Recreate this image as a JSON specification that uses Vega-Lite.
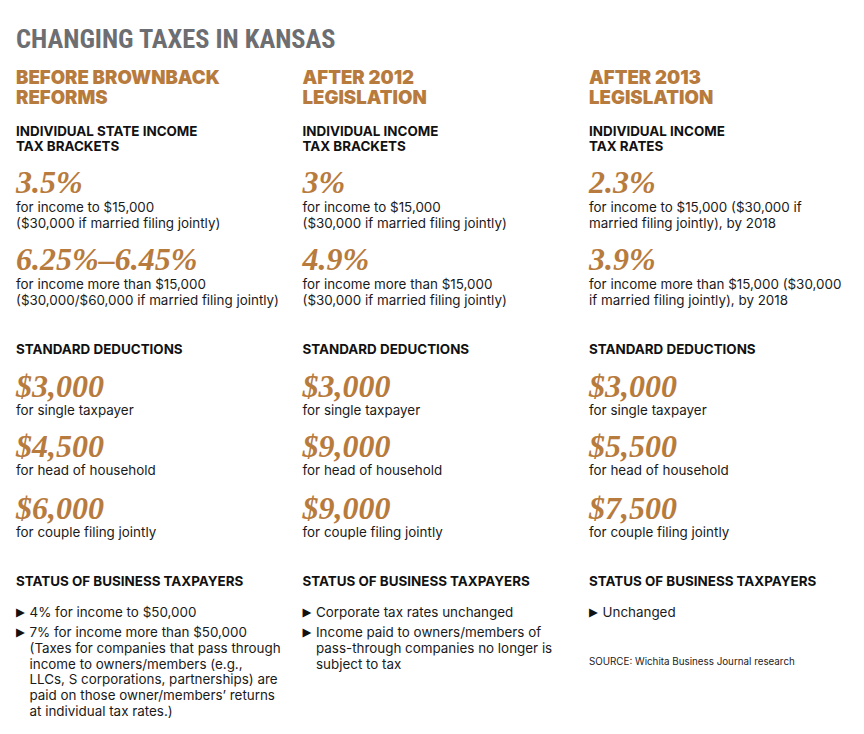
{
  "$schema": "https://vega.github.io/schema/vega-lite/v6.json",
  "width": 864,
  "height": 734,
  "padding": 0,
  "autosize": {"type": "fit", "contains": "padding"},
  "background": "white",
  "config": {"view": {"stroke": null}},
  "data": {"values": [
    {"kind": "title", "col": 0, "y": 48, "text": "CHANGING TAXES IN KANSAS"},
    {"kind": "head", "col": 0, "y": 84, "text": "BEFORE BROWNBACK"},
    {"kind": "head", "col": 0, "y": 104, "text": "REFORMS"},
    {"kind": "head", "col": 1, "y": 84, "text": "AFTER 2012"},
    {"kind": "head", "col": 1, "y": 104, "text": "LEGISLATION"},
    {"kind": "head", "col": 2, "y": 84, "text": "AFTER 2013"},
    {"kind": "head", "col": 2, "y": 104, "text": "LEGISLATION"},
    {"kind": "sub", "col": 0, "y": 136, "text": "INDIVIDUAL STATE INCOME"},
    {"kind": "sub", "col": 0, "y": 151, "text": "TAX BRACKETS"},
    {"kind": "sub", "col": 1, "y": 136, "text": "INDIVIDUAL INCOME"},
    {"kind": "sub", "col": 1, "y": 151, "text": "TAX BRACKETS"},
    {"kind": "sub", "col": 2, "y": 136, "text": "INDIVIDUAL INCOME"},
    {"kind": "sub", "col": 2, "y": 151, "text": "TAX RATES"},
    {"kind": "sub", "col": 0, "y": 354, "text": "STANDARD DEDUCTIONS"},
    {"kind": "sub", "col": 1, "y": 354, "text": "STANDARD DEDUCTIONS"},
    {"kind": "sub", "col": 2, "y": 354, "text": "STANDARD DEDUCTIONS"},
    {"kind": "sub", "col": 0, "y": 586, "text": "STATUS OF BUSINESS TAXPAYERS"},
    {"kind": "sub", "col": 1, "y": 586, "text": "STATUS OF BUSINESS TAXPAYERS"},
    {"kind": "sub", "col": 2, "y": 586, "text": "STATUS OF BUSINESS TAXPAYERS"},
    {"kind": "big", "col": 0, "y": 193, "text": "3.5%"},
    {"kind": "big", "col": 0, "y": 270, "text": "6.25%–6.45%"},
    {"kind": "big", "col": 0, "y": 397, "text": "$3,000"},
    {"kind": "big", "col": 0, "y": 457, "text": "$4,500"},
    {"kind": "big", "col": 0, "y": 519, "text": "$6,000"},
    {"kind": "big", "col": 1, "y": 193, "text": "3%"},
    {"kind": "big", "col": 1, "y": 270, "text": "4.9%"},
    {"kind": "big", "col": 1, "y": 397, "text": "$3,000"},
    {"kind": "big", "col": 1, "y": 457, "text": "$9,000"},
    {"kind": "big", "col": 1, "y": 519, "text": "$9,000"},
    {"kind": "big", "col": 2, "y": 193, "text": "2.3%"},
    {"kind": "big", "col": 2, "y": 270, "text": "3.9%"},
    {"kind": "big", "col": 2, "y": 397, "text": "$3,000"},
    {"kind": "big", "col": 2, "y": 457, "text": "$5,500"},
    {"kind": "big", "col": 2, "y": 519, "text": "$7,500"},
    {"kind": "body", "col": 0, "y": 212, "text": "for income to $15,000"},
    {"kind": "body", "col": 0, "y": 228, "text": "($30,000 if married filing jointly)"},
    {"kind": "body", "col": 0, "y": 289, "text": "for income more than $15,000"},
    {"kind": "body", "col": 0, "y": 305, "text": "($30,000/$60,000 if married filing jointly)"},
    {"kind": "body", "col": 1, "y": 212, "text": "for income to $15,000"},
    {"kind": "body", "col": 1, "y": 228, "text": "($30,000 if married filing jointly)"},
    {"kind": "body", "col": 1, "y": 289, "text": "for income more than $15,000"},
    {"kind": "body", "col": 1, "y": 305, "text": "($30,000 if married filing jointly)"},
    {"kind": "body", "col": 2, "y": 212, "text": "for income to $15,000 ($30,000 if"},
    {"kind": "body", "col": 2, "y": 228, "text": "married filing jointly), by 2018"},
    {"kind": "body", "col": 2, "y": 289, "text": "for income more than $15,000 ($30,000"},
    {"kind": "body", "col": 2, "y": 305, "text": "if married filing jointly), by 2018"},
    {"kind": "body", "col": 0, "y": 415, "text": "for single taxpayer"},
    {"kind": "body", "col": 1, "y": 415, "text": "for single taxpayer"},
    {"kind": "body", "col": 2, "y": 415, "text": "for single taxpayer"},
    {"kind": "body", "col": 0, "y": 475, "text": "for head of household"},
    {"kind": "body", "col": 1, "y": 475, "text": "for head of household"},
    {"kind": "body", "col": 2, "y": 475, "text": "for head of household"},
    {"kind": "body", "col": 0, "y": 537, "text": "for couple filing jointly"},
    {"kind": "body", "col": 1, "y": 537, "text": "for couple filing jointly"},
    {"kind": "body", "col": 2, "y": 537, "text": "for couple filing jointly"},
    {"kind": "item", "col": 0, "y": 617, "bullet": true, "text": "4% for income to $50,000"},
    {"kind": "item", "col": 0, "y": 637, "bullet": true, "text": "7% for income more than $50,000"},
    {"kind": "item", "col": 0, "y": 653, "bullet": false, "text": "(Taxes for companies that pass through"},
    {"kind": "item", "col": 0, "y": 669, "bullet": false, "text": "income to owners/members (e.g.,"},
    {"kind": "item", "col": 0, "y": 684, "bullet": false, "text": "LLCs, S corporations, partnerships) are"},
    {"kind": "item", "col": 0, "y": 700, "bullet": false, "text": "paid on those owner/members’ returns"},
    {"kind": "item", "col": 0, "y": 716, "bullet": false, "text": "at individual tax rates.)"},
    {"kind": "item", "col": 1, "y": 617, "bullet": true, "text": "Corporate tax rates unchanged"},
    {"kind": "item", "col": 1, "y": 637, "bullet": true, "text": "Income paid to owners/members of"},
    {"kind": "item", "col": 1, "y": 653, "bullet": false, "text": "pass-through companies no longer is"},
    {"kind": "item", "col": 1, "y": 669, "bullet": false, "text": "subject to tax"},
    {"kind": "item", "col": 2, "y": 617, "bullet": true, "text": "Unchanged"},
    {"kind": "source", "col": 2, "y": 665, "text": "SOURCE: Wichita Business Journal research"}
  ]},
  "encoding": {
    "x": {"field": "col", "type": "quantitative", "scale": {"domain": [-0.05585, 2.95985], "nice": false, "zero": false}, "axis": null},
    "y": {"field": "y", "type": "quantitative", "scale": {"domain": [0, 734], "reverse": true, "nice": false, "zero": false}, "axis": null},
    "text": {"field": "text"}
  },
  "layer": [
    {"transform": [{"filter": "datum.kind == 'title'"}],
     "mark": {"type": "text", "align": "left", "baseline": "alphabetic", "font": "Roboto Condensed, Roboto, sans-serif", "fontWeight": "bold", "fontSize": 26.4, "fill": "#6d6e71"}},
    {"transform": [{"filter": "datum.kind == 'head'"}],
     "mark": {"type": "text", "align": "left", "baseline": "alphabetic", "font": "Inter", "fontWeight": 900, "fontSize": 18.6, "fill": "#b87b3e"}},
    {"transform": [{"filter": "datum.kind == 'sub'"}],
     "mark": {"type": "text", "align": "left", "baseline": "alphabetic", "font": "Inter", "fontWeight": 700, "fontSize": 13.4, "fill": "#111111"}},
    {"transform": [{"filter": "datum.kind == 'big'"}],
     "mark": {"type": "text", "align": "left", "baseline": "alphabetic", "font": "Liberation Serif", "fontWeight": "bold", "fontStyle": "italic", "fontSize": 32, "fill": "#b87b3e"}},
    {"transform": [{"filter": "datum.kind == 'body'"}],
     "mark": {"type": "text", "align": "left", "baseline": "alphabetic", "font": "Inter", "fontSize": 13.4, "fill": "#1a1a1a"}},
    {"transform": [{"filter": "datum.kind == 'item'"}],
     "mark": {"type": "text", "align": "left", "baseline": "alphabetic", "dx": 13.5, "font": "Inter", "fontSize": 13.4, "fill": "#1a1a1a"}},
    {"transform": [{"filter": "datum.kind == 'item' && datum.bullet"}],
     "mark": {"type": "text", "align": "left", "baseline": "alphabetic", "dy": -1, "font": "DejaVu Sans", "fontSize": 11.5, "fill": "#111111"},
     "encoding": {"text": {"value": "▶"}}},
    {"transform": [{"filter": "datum.kind == 'source'"}],
     "mark": {"type": "text", "align": "left", "baseline": "alphabetic", "font": "Inter", "fontSize": 9.8, "fill": "#222222"}}
  ]
}
